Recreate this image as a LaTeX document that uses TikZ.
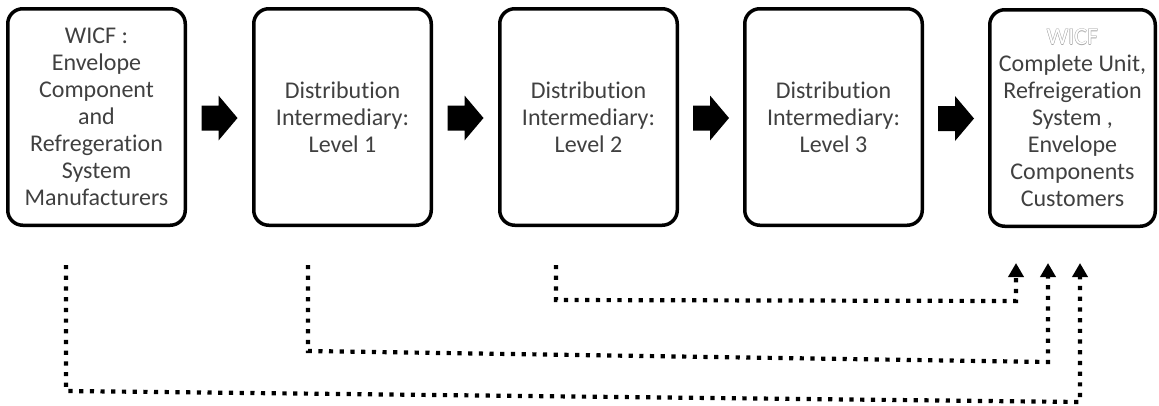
\documentclass[tikz,border=0pt]{standalone}
\usepackage{fontspec}
\setmainfont{Carlito}[Ligatures=NoCommon]
\usetikzlibrary{arrows.meta,calc}

\definecolor{txt}{HTML}{404040}
\definecolor{outl}{HTML}{A8A8A8}

% white lettering with a thin grey outline, built from offset copies
\newcommand\hollowtext[1]{\leavevmode
  \rlap{\kern0.55pt\textcolor{outl}{#1}}%
  \rlap{\kern-0.55pt\textcolor{outl}{#1}}%
  \rlap{\raisebox{0.55pt}{\textcolor{outl}{#1}}}%
  \rlap{\raisebox{-0.55pt}{\textcolor{outl}{#1}}}%
  \textcolor{white}{#1}}

\begin{document}
\begin{tikzpicture}[x=1pt,y=-1pt,
  stagebox/.style={draw=black, line width=3.5pt, rounded corners=15pt,
    minimum height=216.5pt, align=center, text=txt, inner sep=0pt,
    font=\fontsize{24}{27}\selectfont},
  blockarrow/.pic={\fill[black] (-18,-12.5) -- (-1,-12.5) -- (-1,-22.5) -- (18,0)
    -- (-1,22.5) -- (-1,12.5) -- (-18,12.5) -- cycle;},
  feed/.style={line width=4.2pt, dash pattern=on 4.2pt off 6.5pt,
    -{Triangle[width=15pt,length=14pt]}}
]
\useasboundingbox (0,0) rectangle (1159,405);

% supply chain stages
\node[stagebox, minimum width=177.5pt] (b1) at (96.5,117)
  {WICF :\\Envelope\\Component\\and\\Refregeration\\System\\Manufacturers};
\node[stagebox, minimum width=177.5pt] (b2) at (342.5,117)
  {Distribution\\Intermediary:\\Level 1};
\node[stagebox, minimum width=177.5pt] (b3) at (588.5,117)
  {Distribution\\Intermediary:\\Level 2};
\node[stagebox, minimum width=177.5pt] (b4) at (833.5,117)
  {Distribution\\Intermediary:\\Level 3};
\node[stagebox, minimum width=165.5pt] (b5) at (1072.5,118)
  {\hollowtext{WICF}\\Complete Unit,\\Refreigeration\\System ,\\Envelope\\Components\\Customers};

% block arrows between stages
\coordinate (a1) at ($(b1.east)!0.5!(b2.west)+(0,1)$);
\coordinate (a2) at ($(b2.east)!0.5!(b3.west)+(0,1)$);
\coordinate (a3) at ($(b3.east)!0.5!(b4.west)+(0,1)$);
\coordinate (a4) at ($(b4.east)!0.5!(b5.west)+(0,1)$);
\pic at (a1) {blockarrow};
\pic at (a2) {blockarrow};
\pic at (a3) {blockarrow};
\pic at (a4) {blockarrow};

% direct sales routes to the customers
\coordinate (s1) at (66,265);
\coordinate (k1a) at (66,391);
\coordinate (k1b) at (1080,402);
\coordinate (t1) at (1080,263);
\coordinate (s2) at (308,265);
\coordinate (k2a) at (308,351);
\coordinate (k2b) at (1048,362);
\coordinate (t2) at (1048,263);
\coordinate (s3) at (556,265);
\coordinate (k3a) at (556,300);
\coordinate (k3b) at (1016,301);
\coordinate (t3) at (1016,263);

\draw[feed] (s1) -- (k1a) -- (k1b) -- (t1);
\draw[feed] (s2) -- (k2a) -- (k2b) -- (t2);
\draw[feed] (s3) -- (k3a) -- (k3b) -- (t3);
\end{tikzpicture}
\end{document}
